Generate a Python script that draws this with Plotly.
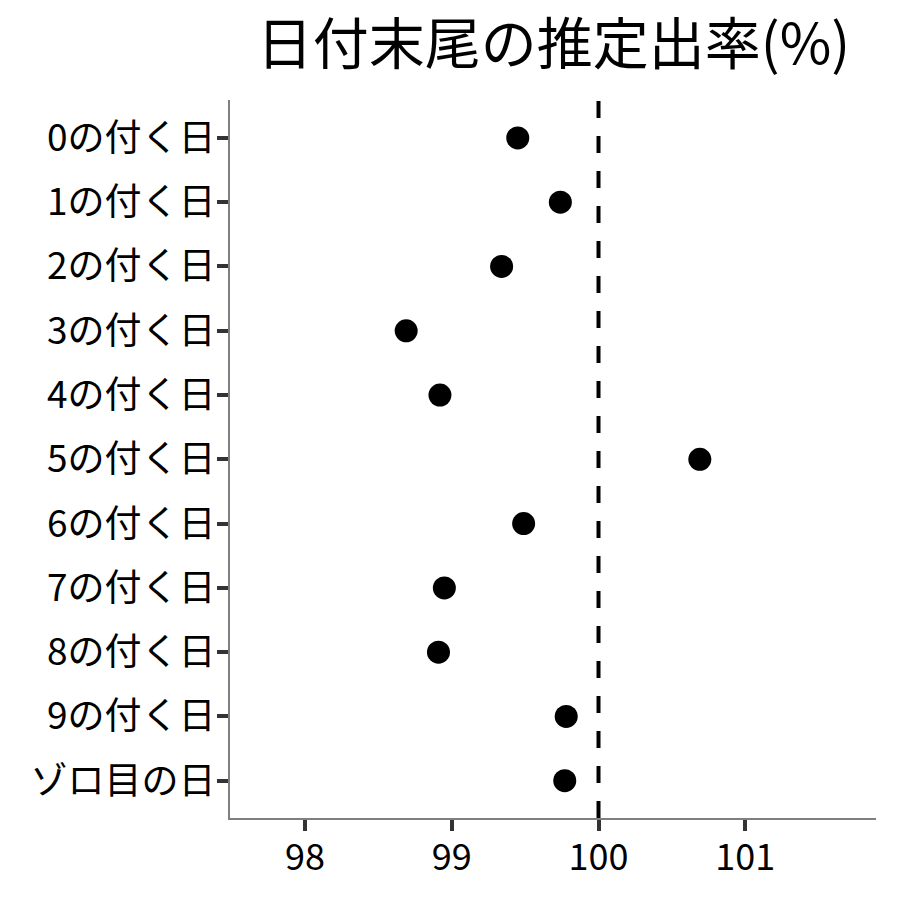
import plotly.graph_objects as go

categories = ["0の付く日", "1の付く日", "2の付く日", "3の付く日", "4の付く日",
              "5の付く日", "6の付く日", "7の付く日", "8の付く日", "9の付く日", "ゾロ目の日"]
rates = [99.45, 99.74, 99.34, 98.69, 98.92, 100.69, 99.49, 98.95, 98.91, 99.78, 99.77]
x_ticks = [98, 99, 100, 101]
reference_rate = 100

font = "Noto Sans CJK JP"

fig = go.Figure()
fig.add_trace(go.Scatter(
    x=rates, y=categories, mode="markers",
    marker=dict(size=23, color="black"),
    showlegend=False,
))
fig.add_shape(type="line", x0=reference_rate, x1=reference_rate, xref="x",
              y0=0, y1=1, yref="paper",
              line=dict(color="black", width=4, dash="17px,18px"), layer="above")

fig.update_layout(
    width=900, height=900,
    paper_bgcolor="white", plot_bgcolor="white",
    margin=dict(l=230, r=24, t=100, b=82),
    title=dict(text="日付末尾の推定出率(%)", x=0.615, xanchor="center",
               y=0.951, yanchor="middle",
               font=dict(family=font, size=56, color="black")),
    font=dict(family=font, color="black"),
)
fig.update_xaxes(
    range=[97.49, 101.89], tickvals=x_ticks, ticktext=[str(v) for v in x_ticks],
    showgrid=False, zeroline=False, showline=True, linecolor="#7f7f7f", linewidth=2,
    ticks="outside", ticklen=11, tickwidth=4, tickcolor="#333333",
    tickfont=dict(family=font, size=36, color="black"),
    ticklabelstandoff=-4,
)
fig.update_yaxes(
    categoryorder="array", categoryarray=categories[::-1],
    range=[-0.58, 10.59],
    showgrid=False, zeroline=False, showline=True, linecolor="#7f7f7f", linewidth=2,
    ticks="outside", ticklen=11, tickwidth=4, tickcolor="#333333",
    tickfont=dict(family=font, size=37, color="black"),
    ticklabelstandoff=-6,
)

fig.write_html("out.html", config={"displayModeBar": False},
               post_script="document.body.style.margin='0';")
